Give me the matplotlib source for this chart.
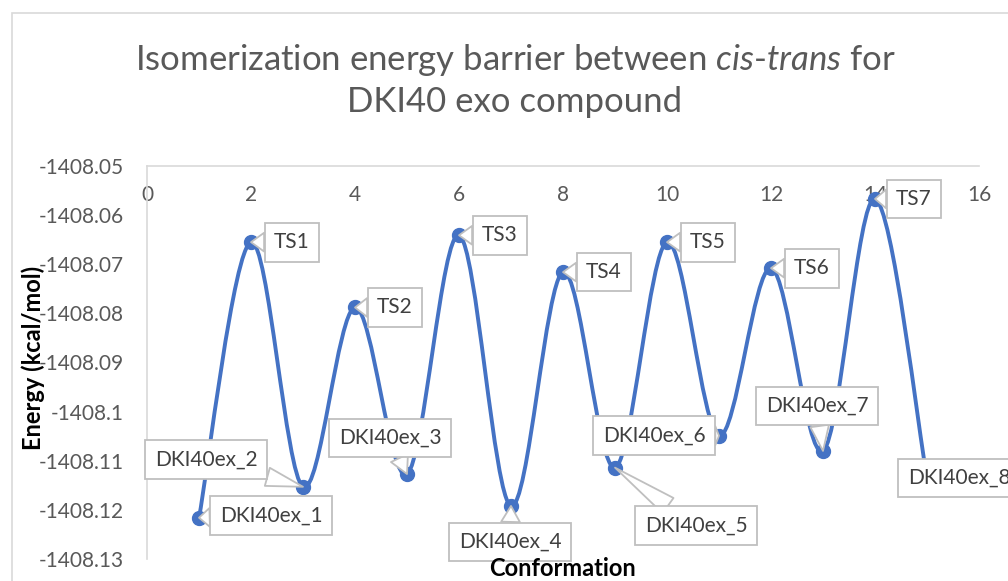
import numpy as np
import matplotlib
matplotlib.use("Agg")
import matplotlib.pyplot as plt
from matplotlib.path import Path
from matplotlib.patches import PathPatch, Rectangle
from matplotlib.ticker import FuncFormatter, MultipleLocator

plt.rcParams["font.family"] = ["Lato", "DejaVu Sans"]
plt.rcParams["mathtext.fontset"] = "custom"
plt.rcParams["mathtext.it"] = "Lato:italic"
plt.rcParams["mathtext.rm"] = "Lato"

# ----------------------------------------------------
# Data
# ----------------------------------------------------

conformation = [1, 2, 3, 4, 5, 6, 7, 8, 9, 10, 11, 12, 13, 14, 15]

energy = [
    -1408.1216, -1408.0655, -1408.1153, -1408.0788, -1408.1127,
    -1408.0641, -1408.1192, -1408.0716, -1408.1114, -1408.0655,
    -1408.1049, -1408.0708, -1408.1080, -1408.0567, -1408.1135,
]

point_labels = [
    "DKI40ex_1", "TS1", "DKI40ex_2", "TS2", "DKI40ex_3", "TS3",
    "DKI40ex_4", "TS4", "DKI40ex_5", "TS5", "DKI40ex_6", "TS6",
    "DKI40ex_7", "TS7", "DKI40ex_8",
]

# label box offsets from each point (pixels)
label_offsets = [
    (72, 2), (41, 0), (-97, 27), (40, 0), (-17, 36), (41, 0),
    (-1, -36), (41, 0), (81, -58), (41, 0), (-65, 0), (41, 0),
    (-6, 45), (39, 0), (32, 0),
]

BLUE = "#4472C4"
GRAY_TXT = "#595959"
GRAY_LINE = "#d9d9d9"

# ----------------------------------------------------
# Figure
# ----------------------------------------------------

fig = plt.figure(figsize=(10.08, 5.81), dpi=100)
ax = fig.add_axes([147 / 1008, 1 - 559 / 581, (979 - 147) / 1008, (559 - 166) / 581])

# chart area border (partly cropped)
fig.add_artist(Rectangle((12 / 1008, -0.1), 1.2, 1 - 13 / 581 + 0.1,
                         transform=fig.transFigure, fill=False,
                         edgecolor=GRAY_LINE, linewidth=1.2))

# ----------------------------------------------------
# Smoothed line (Excel-style Bezier)
# ----------------------------------------------------

pts = np.column_stack([conformation, energy]).astype(float)
verts = [tuple(pts[0])]
codes = [Path.MOVETO]
n = len(pts)
for i in range(n - 1):
    p0 = pts[i]
    p3 = pts[i + 1]
    prev = pts[i - 1] if i > 0 else p0
    nxt = pts[i + 2] if i + 2 < n else p3
    c1 = p0 + (p3 - prev) / 6
    c2 = p3 - (nxt - p0) / 6
    verts += [tuple(c1), tuple(c2), tuple(p3)]
    codes += [Path.CURVE4] * 3

ax.add_patch(PathPatch(Path(verts, codes), facecolor="none",
                       edgecolor=BLUE, linewidth=2.8, zorder=2))
ax.plot(conformation, energy, linestyle="none", marker="o",
        markersize=10, color=BLUE, zorder=3)

# ----------------------------------------------------
# Callout labels
# ----------------------------------------------------

for x, y, lab, off in zip(conformation, energy, point_labels, label_offsets):
    ax.annotate(
        lab, xy=(x, y), xytext=off, textcoords="offset pixels",
        ha="center", va="center", fontsize=15, color="#404040",
        bbox=dict(boxstyle="square,pad=0.45", fc="white", ec="#bfbfbf", lw=1.3),
        arrowprops=dict(arrowstyle="wedge,tail_width=0.9,shrink_factor=0.5",
                        fc="white", ec="#bfbfbf", lw=1.3,
                        shrinkA=0, shrinkB=0),
        annotation_clip=False, zorder=5,
    )

# ----------------------------------------------------
# Axes styling
# ----------------------------------------------------

ax.set_xlim(0, 16)
ax.set_ylim(-1408.13, -1408.05)
ax.xaxis.set_major_locator(MultipleLocator(2))
ax.yaxis.set_major_locator(MultipleLocator(0.01))
ax.yaxis.set_major_formatter(FuncFormatter(lambda v, _: f"{round(v, 2):g}"))

for side in ["right", "bottom"]:
    ax.spines[side].set_visible(False)
for side in ["top", "left"]:
    ax.spines[side].set_color(GRAY_LINE)
    ax.spines[side].set_linewidth(1.2)

ax.tick_params(axis="x", top=True, labeltop=True, bottom=False,
               labelbottom=False, length=0, pad=-14,
               labelsize=15, labelcolor=GRAY_TXT)
for lbl in ax.get_xticklabels():
    lbl.set_va("top")
ax.tick_params(axis="y", length=0, pad=17, labelsize=15, labelcolor=GRAY_TXT)

fig.text(33 / 1008, 1 - 358 / 581, "Energy (kcal/mol)", rotation=90,
         ha="center", va="center", fontsize=17, fontweight="bold", color="black")
fig.text(563 / 1008, 1 - 568 / 581, "Conformation",
         ha="center", va="center", fontsize=17, fontweight="bold", color="black")

# ----------------------------------------------------
# Title
# ----------------------------------------------------

fig.text(515 / 1008, 1 - 60 / 581,
         r"Isomerization energy barrier between $\it{cis}$-$\it{trans}$ for",
         ha="center", va="center", fontsize=25, color=GRAY_TXT)
fig.text(515 / 1008, 1 - 102 / 581, "DKI40 exo compound",
         ha="center", va="center", fontsize=25, color=GRAY_TXT)

fig.savefig("out.png", dpi=100)
plt.close(fig)
